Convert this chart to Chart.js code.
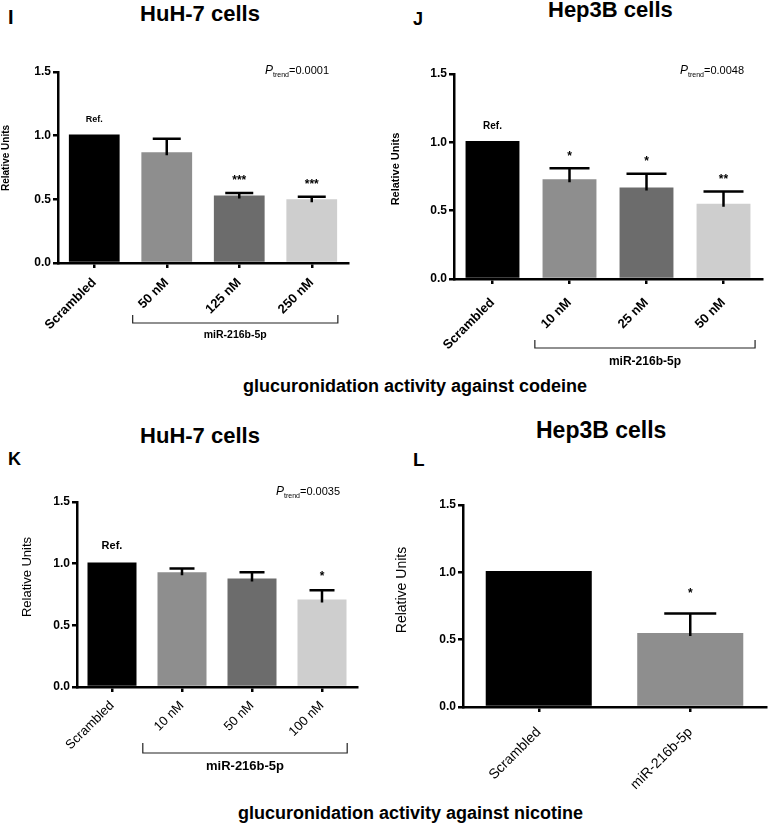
<!DOCTYPE html>
<html lang="en">
<head>
<meta charset="UTF-8">
<title>miR-216b-5p glucuronidation</title>
<script src="https://cdn.jsdelivr.net/npm/chart.js"></script>
<style>
    body { margin: 0; background: #fff; }
    #fig { position: relative; width: 768px; height: 824px; overflow: hidden; font-family: 'Liberation Sans', Arial, sans-serif; color: #000; }
    #fig canvas { position: absolute; }
    .txt { position: absolute; white-space: nowrap; font-weight: bold; }
</style>
</head>
<body>
<div id="fig">
    <div class="txt" style="left:8px;top:7px;font-size:20px;line-height:20px">I</div>
    <div class="txt" style="left:140px;top:3px;width:120px;text-align:center;font-size:22px;line-height:22px">HuH-7 cells</div>
    <div class="txt" style="left:413px;top:10px;font-size:18px;line-height:18px">J</div>
    <div class="txt" style="left:548px;top:-1px;width:120px;text-align:center;font-size:22px;line-height:22px">Hep3B cells</div>
    <div class="txt" style="left:243px;top:377px;font-size:18px;line-height:18px">glucuronidation activity against codeine</div>

    <div class="txt" style="left:8px;top:450px;font-size:18px;line-height:18px">K</div>
    <div class="txt" style="left:140px;top:425px;width:120px;text-align:center;font-size:22px;line-height:22px">HuH-7 cells</div>
    <div class="txt" style="left:413px;top:450px;font-size:19px;line-height:19px">L</div>
    <div class="txt" style="left:536px;top:419px;width:130px;text-align:center;font-size:23px;line-height:23px">Hep3B cells</div>
    <div class="txt" style="left:238px;top:804px;font-size:18px;line-height:18px">glucuronidation activity against nicotine</div>

    <canvas id="cI" width="384" height="310" style="left:0;top:40px"></canvas>
    <canvas id="cJ" width="384" height="335" style="left:384px;top:40px"></canvas>
    <canvas id="cK" width="384" height="320" style="left:0;top:460px"></canvas>
    <canvas id="cL" width="384" height="340" style="left:384px;top:460px"></canvas>
</div>

<script>
    const FONT = "'Liberation Sans', Arial, sans-serif";
    Chart.defaults.font.family = FONT;
    Chart.defaults.color = '#000';

    const yTicks = [0, 0.5, 1.0, 1.5];
    const barColors = ['#000000', '#8e8e8e', '#6c6c6c', '#cecece'];
    const groupLabel = 'miR-216b-5p';

    // I - HuH-7, codeine
    const catsI = ['Scrambled', '50 nM', '125 nM', '250 nM'];
    const meanI = [1.01, 0.87, 0.53, 0.50];
    const semI = [0, 0.105, 0.02, 0.02];
    const markI = ['Ref.', '', '***', '***'];
    const pI = '0.0001';

    // J - Hep3B, codeine
    const catsJ = ['Scrambled', '10 nM', '25 nM', '50 nM'];
    const meanJ = [1.01, 0.73, 0.67, 0.55];
    const semJ = [0, 0.08, 0.10, 0.09];
    const markJ = ['Ref.', '*', '*', '**'];
    const pJ = '0.0048';

    // K - HuH-7, nicotine
    const catsK = ['Scrambled', '10 nM', '50 nM', '100 nM'];
    const meanK = [1.01, 0.93, 0.88, 0.71];
    const semK = [0, 0.03, 0.05, 0.075];
    const markK = ['Ref.', '', '', '*'];
    const pK = '0.0035';

    // L - Hep3B, nicotine
    const catsL = ['Scrambled', 'miR-216b-5p'];
    const meanL = [1.01, 0.55];
    const semL = [0, 0.145];
    const markL = ['', '*'];

    // error bars, stars, P trend, bracket, y title
    const extras = {
        id: 'extras',
        afterDraw(chart, args, o) {
            const ctx = chart.ctx, x = chart.scales.x, y = chart.scales.y, area = chart.chartArea;
            const means = chart.data.datasets[0].data;
            ctx.save();

            ctx.strokeStyle = '#000';
            ctx.lineWidth = 2.5;
            o.sem.forEach((s, i) => {
                if (!s) return;
                const px = x.getPixelForValue(i);
                const y0 = y.getPixelForValue(means[i]);
                const y1 = y.getPixelForValue(means[i] + s);
                ctx.beginPath();
                ctx.moveTo(px, y0 + 3);
                ctx.lineTo(px, y1);
                ctx.moveTo(px - o.cap / 2, y1);
                ctx.lineTo(px + o.cap / 2, y1);
                ctx.stroke();
            });

            ctx.fillStyle = '#000';
            ctx.textAlign = 'center';
            ctx.textBaseline = 'alphabetic';
            o.marks.forEach((m, i) => {
                if (!m) return;
                const top = y.getPixelForValue(means[i] + o.sem[i]);
                const cy = top - o.markGap;
                if (m === 'Ref.') {
                    ctx.font = 'bold ' + o.refSize + 'px ' + FONT;
                    ctx.fillText(m, x.getPixelForValue(i), cy + 0.36 * o.refSize);
                } else {
                    ctx.font = 'bold ' + o.starSize + 'px ' + FONT;
                    ctx.fillText(m, x.getPixelForValue(i), cy + 0.6 * o.starSize);
                }
            });

            if (o.ptrend) {
                let px = o.ptrend.x;
                const by = o.ptrend.y;
                ctx.textAlign = 'left';
                ctx.font = 'italic 12px ' + FONT;
                ctx.fillText('P', px, by);
                px += ctx.measureText('P').width;
                ctx.font = '7px ' + FONT;
                ctx.fillText('trend', px, by + 3);
                px += ctx.measureText('trend').width;
                ctx.font = '11px ' + FONT;
                ctx.fillText('=' + o.ptrend.val, px, by);
            }

            if (o.bracket) {
                const b = o.bracket;
                const band = x.getPixelForValue(1) - x.getPixelForValue(0);
                const l = x.getPixelForValue(1) - b.l * band;
                const r = x.getPixelForValue(means.length - 1) + b.r * band;
                const yb = area.bottom + b.y;
                ctx.strokeStyle = '#222';
                ctx.lineWidth = 1.2;
                ctx.beginPath();
                ctx.moveTo(l, yb - b.h);
                ctx.lineTo(l, yb);
                ctx.lineTo(r, yb);
                ctx.lineTo(r, yb - b.h);
                ctx.stroke();
                ctx.textAlign = 'center';
                ctx.textBaseline = 'middle';
                ctx.font = 'bold ' + b.size + 'px ' + FONT;
                ctx.fillText(groupLabel, (l + r) / 2, area.bottom + b.ly);
            }

            const t = o.ytitle;
            ctx.translate(t.x, t.y);
            ctx.rotate(-Math.PI / 2);
            ctx.textAlign = 'center';
            ctx.textBaseline = 'middle';
            ctx.font = t.weight + ' ' + t.size + 'px ' + FONT;
            ctx.fillText('Relative Units', 0, 0);
            ctx.restore();
        }
    };

    function panel(id, cats, means, opt) {
        return new Chart(document.getElementById(id), {
            type: 'bar',
            data: {
                labels: cats,
                datasets: [{
                    data: means,
                    backgroundColor: barColors.slice(0, means.length),
                    barPercentage: 0.7,
                    categoryPercentage: 1
                }]
            },
            options: {
                responsive: false,
                animation: false,
                layout: { padding: { left: 0, right: opt.padR, top: opt.padT, bottom: 0 } },
                plugins: {
                    legend: { display: false },
                    tooltip: { enabled: false },
                    extras: opt.extras
                },
                scales: {
                    x: {
                        grid: { display: true, drawOnChartArea: false, offset: false, color: '#000', lineWidth: 2.5, tickLength: 5 },
                        border: { display: true, color: '#000', width: 2.5 },
                        ticks: {
                            minRotation: 45, maxRotation: 45, autoSkip: false, padding: opt.xPad, color: '#000',
                            font: { size: opt.xFont, weight: opt.xWeight }
                        },
                        afterFit: s => { s.height = opt.xH; }
                    },
                    y: {
                        min: 0,
                        max: 1.5,
                        afterBuildTicks: s => { s.ticks = yTicks.map(v => ({ value: v })); },
                        grid: { drawOnChartArea: false, color: '#000', lineWidth: 2.5, tickLength: 5 },
                        border: { display: true, color: '#000', width: 2.5 },
                        ticks: {
                            callback: v => Number(v).toFixed(1), padding: 2, color: '#000',
                            font: { size: 12, weight: 'bold' }
                        },
                        afterFit: s => { s.width = opt.yW; }
                    }
                }
            },
            plugins: [extras]
        });
    }

    panel('cI', catsI, meanI, {
        yW: 58, padR: 36, padT: 32, xH: 87, xFont: 13, xWeight: 'bold', xPad: 7,
        extras: {
            sem: semI, marks: markI, cap: 28, markGap: 16, refSize: 9, starSize: 12,
            ptrend: { x: 265, y: 34, val: pI },
            ytitle: { x: 6, y: 118, size: 10, weight: 'bold' },
            bracket: { l: 0.47, r: 0.36, y: 60, h: 8, ly: 72, size: 10.5 }
        }
    });

    panel('cJ', catsJ, meanJ, {
        yW: 70, padR: 6, padT: 34, xH: 96, xFont: 13, xWeight: 'bold', xPad: 11,
        extras: {
            sem: semJ, marks: markJ, cap: 40, markGap: 16, refSize: 10, starSize: 12,
            ptrend: { x: 296, y: 34, val: pJ },
            ytitle: { x: 12, y: 129, size: 11, weight: 'bold' },
            bracket: { l: 0.45, r: 0.41, y: 69, h: 8, ly: 83, size: 12 }
        }
    });

    panel('cK', catsK, meanK, {
        yW: 77, padR: 27, padT: 42, xH: 93, xFont: 13, xWeight: 'normal', xPad: 6,
        extras: {
            sem: semK, marks: markK, cap: 25, markGap: 17, refSize: 11, starSize: 12,
            ptrend: { x: 276, y: 35, val: pK },
            ytitle: { x: 27, y: 117, size: 13, weight: 'normal' },
            bracket: { l: 0.56, r: 0.36, y: 66, h: 10, ly: 79, size: 13 }
        }
    });

    panel('cL', catsL, meanL, {
        yW: 79, padR: 2, padT: 45, xH: 93, xFont: 14, xWeight: 'normal', xPad: 12,
        extras: {
            sem: semL, marks: markL, cap: 52, markGap: 24, refSize: 11, starSize: 12,
            ptrend: null,
            ytitle: { x: 18, y: 130, size: 14, weight: 'normal' },
            bracket: null
        }
    });
</script>
</body>
</html>
